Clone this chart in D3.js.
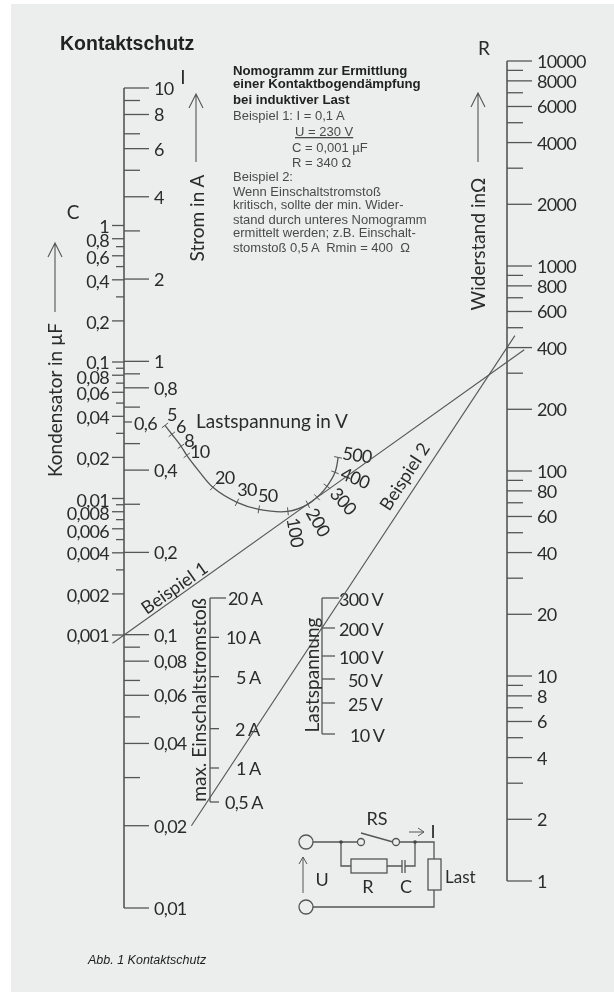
<!DOCTYPE html>
<html>
<head>
<meta charset="utf-8">
<script src="https://cdn.jsdelivr.net/npm/d3@7"></script>
<style>
  html, body { margin: 0; padding: 0; background: #fff; }
  svg { display: block; }
  #art { filter: blur(0.45px); }
  .scale text { font-family: Lato, "Liberation Sans", sans-serif; font-size: 18px; letter-spacing: -0.7px; fill: #2b2b2b; }
  .lbl { font-family: Lato, "Liberation Sans", sans-serif; font-size: 19px; fill: #2b2b2b; }
  .note { font-family: "Liberation Sans", sans-serif; font-size: 13px; fill: #4a4a4a; }
  .note.head { font-weight: bold; fill: #222; font-size: 13.2px; }
  .ink { stroke: #555; fill: none; stroke-width: 1.3; }
</style>
</head>
<body>
<svg id="chart" width="614" height="992"></svg>
<script>
// --- scale values ---
const currentLabelled = [10, 8, 6, 4, 2, 1, 0.8, 0.4, 0.2, 0.1, 0.08, 0.06, 0.04, 0.02, 0.01];
const currentText = ["10", "8", "6", "4", "2", "1", "0,8", "0,4", "0,2", "0,1", "0,08", "0,06", "0,04", "0,02", "0,01"];
const currentShort = [9, 6.8, 5, 3, 0.9, 0.68, 0.5, 0.3, 0.09, 0.068, 0.05, 0.03];

const capLabelled = [1, 0.8, 0.6, 0.4, 0.2, 0.1, 0.08, 0.06, 0.04, 0.02, 0.01, 0.008, 0.006, 0.004, 0.002, 0.001];
const capText = ["1", "0,8", "0,6", "0,4", "0,2", "0,1", "0,08", "0,06", "0,04", "0,02", "0,01", "0,008", "0,006", "0,004", "0,002", "0,001"];
const capShort = [0.7, 0.5, 0.3, 0.09, 0.07, 0.05, 0.03, 0.009, 0.007, 0.005, 0.003];

const resLabelled = [10000, 8000, 6000, 4000, 2000, 1000, 800, 600, 400, 200, 100, 80, 60, 40, 20, 10, 8, 6, 4, 2, 1];
const resShort = [9000, 7000, 5000, 3000, 900, 700, 500, 300, 90, 70, 50, 30, 9, 7, 5, 3];

// Lastspannung curve: volts, position across the chart (% from C axis to R axis), height on the I scale
const curveVolts = [5, 6, 8, 10, 20, 30, 50, 100, 200, 250, 300, 400, 500];
const curveAcross = [10.7, 12.5, 14.9, 16.4, 23.2, 29.5, 35.2, 42.8, 48.0, 50.4, 53.0, 55.1, 55.9];
const curveCurrent = [0.583, 0.541, 0.489, 0.453, 0.346, 0.305, 0.2875, 0.2826, 0.2998, 0.318, 0.349, 0.3925, 0.4453];
const curveBend = [10.7, 12.5, 14.9, 16.4, 19.6, 23.2, 29.5, 35.2, 42.8, 48.0, 50.4, 53.0, 55.1, 55.9];
const curveBendI = [0.583, 0.541, 0.489, 0.453, 0.396, 0.346, 0.305, 0.2875, 0.2826, 0.2998, 0.318, 0.349, 0.3925, 0.4453];
const curveLabelled = [5, 6, 8, 10, 20, 30, 50, 100, 200, 300, 400, 500];

const surgeAmps = [20, 10, 5, 2, 1, 0.5];
const surgeText = ["20 A", "10 A", "5 A", "2 A", "1 A", "0,5 A"];
const loadVolts = [300, 200, 100, 50, 25, 10];
const loadText = ["300 V", "200 V", "100 V", "50 V", "25 V", "10 V"];

const noteLines = [
  "Nomogramm zur Ermittlung", "einer Kontaktbogendämpfung", "bei induktiver Last",
  "Beispiel 1: I = 0,1 A", "U = 230 V", "C = 0,001 µF", "R = 340 Ω", "Beispiel 2:",
  "Wenn Einschaltstromstoß", "kritisch, sollte der min. Wider-", "stand durch unteres Nomogramm",
  "ermittelt werden; z.B. Einschalt-", "stomstoß 0,5 A  Rmin = 400  Ω"
];

// --- scales ---
let svg = d3.select("#chart");
svg.append("rect").attr("x", 11).attr("y", 4).attr("width", 603).attr("height", 988).attr("fill", "#eceeee");
svg = svg.append("g").attr("id", "art");

const xAcross = d3.scaleLinear().domain([0, 100]).range([124, 507]);
const yCurrent = d3.scaleLog().domain([10, 0.01]).range([88, 908]);
const yCap = d3.scaleLog().domain([1, 0.001]).range([225.5, 635]);
const yRes = d3.scaleLog().domain([10000, 1]).range([61, 881]);
const ySurge = d3.scaleLog().domain([20, 1, 0.5]).range([598, 768, 802]);
const yLoad = d3.scaleLog().domain([300, 200, 100, 50, 25, 10]).range([598, 628, 656, 679, 703, 734]);

const axisX = xAcross(0), resX = xAcross(100);

function ticks(g, x, scale, values, x2) {
  g.selectAll(null).data(values).join("line")
    .attr("class", "ink")
    .attr("x1", x).attr("x2", x2)
    .attr("y1", d => scale(d)).attr("y2", d => scale(d));
}

// main scale on the left, I to the right of the line and C to the left
let left = svg.append("g").attr("class", "scale");
left.append("line").attr("class", "ink").style("stroke-width", 1.6)
  .attr("x1", axisX).attr("x2", axisX).attr("y1", yCurrent(10)).attr("y2", yCurrent(0.01));
ticks(left, axisX, yCurrent, currentLabelled, axisX + 25);
ticks(left, axisX, yCurrent, currentShort, axisX + 16);
ticks(left, axisX, yCurrent, [0.6], axisX + 8);
ticks(left, axisX, yCap, capLabelled, axisX - 12);
ticks(left, axisX, yCap, capShort, axisX - 8);

left.selectAll(null).data(currentLabelled).join("text")
  .attr("x", axisX + 30).attr("y", d => yCurrent(d) + 7)
  .text((d, i) => currentText[i]);
left.append("text").attr("x", 134).attr("y", yCurrent(0.6) + 8).text("0,6");

// the crowded C labels sit a little under their ticks
const capNudge = [0, 1, 1, 1, 1, 0, 2, 1, 1, 1, 1, 1, 2, 0, 1, 0];
left.selectAll(null).data(capLabelled).join("text")
  .attr("text-anchor", "end").attr("x", 109)
  .attr("y", (d, i) => yCap(d) + 7 + capNudge[i])
  .text((d, i) => capText[i]);

// resistor scale on the right
let right = svg.append("g").attr("class", "scale");
right.append("line").attr("class", "ink").style("stroke-width", 1.6)
  .attr("x1", resX).attr("x2", resX).attr("y1", yRes(10000)).attr("y2", yRes(1));
ticks(right, resX, yRes, resLabelled, resX + 25);
ticks(right, resX, yRes, resShort, resX + 16);
right.selectAll(null).data(resLabelled).join("text")
  .attr("x", resX + 30).attr("y", d => yRes(d) + 7)
  .text(d => d);

// Lastspannung curve with its tick marks
const curvePts = curveBend.map((a, i) => [xAcross(a), yCurrent(curveBendI[i])]);
let curveG = svg.append("g").attr("class", "scale");
curveG.append("path").attr("class", "ink")
  .attr("d", d3.line().curve(d3.curveCatmullRom)(curvePts));

const voltPts = curveVolts.map((v, i) => [xAcross(curveAcross[i]), yCurrent(curveCurrent[i])]);
curveG.selectAll(null).data(voltPts).join("line")
  .attr("class", "ink").style("stroke-width", 1)
  .each(function (p, i) {
    const a = voltPts[Math.max(i - 1, 0)], b = voltPts[Math.min(i + 1, voltPts.length - 1)];
    const len = Math.hypot(b[0] - a[0], b[1] - a[1]);
    const nx = -(b[1] - a[1]) / len * 4, ny = (b[0] - a[0]) / len * 4;
    d3.select(this).attr("x1", p[0] - nx).attr("y1", p[1] - ny).attr("x2", p[0] + nx).attr("y2", p[1] + ny);
  });

// label offsets from the curve, the rotated ones follow the fan at the right end
const curveLabelDx = [7, 9, 8, 13, 12, 10, 9, 7, 10, 16, 20, 19];
const curveLabelDy = [-10, -7, -5, -3, -9, -12, -13, 21, 18, 15, 6, -2];
const curveLabelRot = [0, 0, 0, 0, 0, 0, 0, 80, 60, 48, 22, 8];
curveG.selectAll(null).data(curveLabelled).join("text")
  .attr("text-anchor", "middle")
  .attr("transform", (v, i) => {
    const k = curveVolts.indexOf(v);
    const x = voltPts[k][0] + curveLabelDx[i], y = voltPts[k][1] + curveLabelDy[i];
    return `translate(${x},${y}) rotate(${curveLabelRot[i]}) translate(0,6)`;
  })
  .text(d => d);

// surge current and load voltage sub scales
let surge = svg.append("g").attr("class", "scale");
surge.append("line").attr("class", "ink").attr("x1", 210).attr("x2", 210).attr("y1", ySurge(20)).attr("y2", ySurge(0.5));
ticks(surge, 210, ySurge, [20], 226);
ticks(surge, 210, ySurge, surgeAmps.slice(1), 219);
const surgeLeft = [228, 226, 236, 235, 236, 225];
surge.selectAll(null).data(surgeAmps).join("text")
  .attr("x", (d, i) => surgeLeft[i]).attr("y", d => ySurge(d) + 7)
  .text((d, i) => surgeText[i]);

let load = svg.append("g").attr("class", "scale");
load.append("line").attr("class", "ink").attr("x1", 322).attr("x2", 322).attr("y1", yLoad(300)).attr("y2", yLoad(10));
ticks(load, 322, yLoad, [300], 339);
ticks(load, 322, yLoad, loadVolts.slice(1), 335);
const loadLeft = [339, 339, 339, 348, 348, 350];
load.selectAll(null).data(loadVolts).join("text")
  .attr("x", (d, i) => loadLeft[i]).attr("y", d => yLoad(d) + 8)
  .text((d, i) => loadText[i]);

// Beispiel lines: between a value on one scale and a value on the R axis, overshooting both ends
function exampleLine(x0, y0, x1, y1, t0, t1) {
  svg.append("line").attr("class", "ink").style("stroke-width", 1.1)
    .attr("x1", x0 + (x1 - x0) * t0).attr("y1", y0 + (y1 - y0) * t0)
    .attr("x2", x0 + (x1 - x0) * t1).attr("y2", y0 + (y1 - y0) * t1);
}
exampleLine(xAcross(0), yCap(0.001), xAcross(100), yRes(340), -0.03, 1.045);
exampleLine(xAcross(17.6), yCurrent(0.02), xAcross(100), yRes(400), 0, 1.025);

function label(text, x, y, rot, anchor, size) {
  svg.append("text").attr("class", "lbl")
    .attr("text-anchor", anchor || "middle")
    .style("font-size", size ? size + "px" : null)
    .attr("transform", `translate(${x},${y}) rotate(${rot || 0})`)
    .text(text);
}
label("Beispiel 1", 178, 593, -35, "middle", 18);
label("Beispiel 2", 410, 480, -57, "middle", 18);
label("Lastspannung in V", 272, 428);
label("max. Einschaltstromstoß", 206, 700, -90);
label("Lastspannung", 319, 675, -90);
label("Kondensator in µF", 62, 400, -90);
label("Strom in A", 204, 218, -90);
label("Widerstand inΩ", 485, 244, -90);
label("C", 73, 219);
label("I", 183, 84);
label("R", 484, 55);

function arrowUp(x, y0, y1) {
  svg.append("path").attr("class", "ink").style("stroke-width", 1.1)
    .attr("d", `M${x},${y0}V${y1}M${x - 7},${y1 + 14}L${x},${y1}L${x + 7},${y1 + 14}`);
}
arrowUp(55, 312, 243);
arrowUp(196, 162, 94);
arrowUp(478, 162, 93);

// title, note block, caption
svg.append("text").attr("x", 60).attr("y", 50)
  .style("font", "bold 19.5px 'Liberation Sans', sans-serif").style("fill", "#222")
  .text("Kontaktschutz");

const noteX = [233, 233, 233, 233, 295, 292, 292, 233, 233, 233, 233, 233, 233];
const noteY = [75, 88, 104, 120, 136, 152, 167, 181, 196, 209, 224, 237, 252];
svg.selectAll("text.note").data(noteLines).join("text")
  .attr("class", (d, i) => i < 3 ? "note head" : "note")
  .attr("x", (d, i) => noteX[i]).attr("y", (d, i) => noteY[i])
  .style("text-decoration", (d, i) => i == 4 ? "underline" : null)
  .style("white-space", "pre")
  .text(d => d);

svg.append("text").attr("x", 88).attr("y", 964)
  .style("font", "italic 12.5px 'Liberation Sans', sans-serif").style("fill", "#222")
  .text("Abb. 1 Kontaktschutz");

// switch circuit at the bottom
let cir = svg.append("g").attr("class", "ink");
cir.append("path").attr("d",
  "M313,842H357.5M399.5,842H434V859M434,890V907H313" +
  "M341,842V866H351M387,866H402M405,866H415V842" +
  "M361,833L393,842");
cir.append("rect").attr("x", 351).attr("y", 859).attr("width", 36).attr("height", 14);
cir.append("rect").attr("x", 428).attr("y", 859).attr("width", 13).attr("height", 31);
cir.append("path").attr("d", "M402,860V873M405,860V873");
[[306, 842, 7], [306, 907, 7], [361, 842, 3.5], [396, 842, 3.5]].forEach(c => {
  cir.append("circle").attr("cx", c[0]).attr("cy", c[1]).attr("r", c[2]);
});
[[341, 842], [415, 842]].forEach(c => {
  svg.append("circle").attr("cx", c[0]).attr("cy", c[1]).attr("r", 1.8).attr("fill", "#444");
});
cir.append("path").style("stroke-width", 1).attr("d", "M303,893V857M299,864L303,857L307,864");
cir.append("path").style("stroke-width", 1).attr("d", "M409,832H424M418,828L424,832L418,836");
label("RS", 377, 825, 0, "middle", 18);
label("I", 433, 838, 0, "middle", 18);
label("U", 322, 886, 0, "middle", 18);
label("R", 368, 893, 0, "middle", 18);
label("C", 406, 893, 0, "middle", 18);
label("Last", 445, 883, 0, "start", 17);
</script>
</body>
</html>
